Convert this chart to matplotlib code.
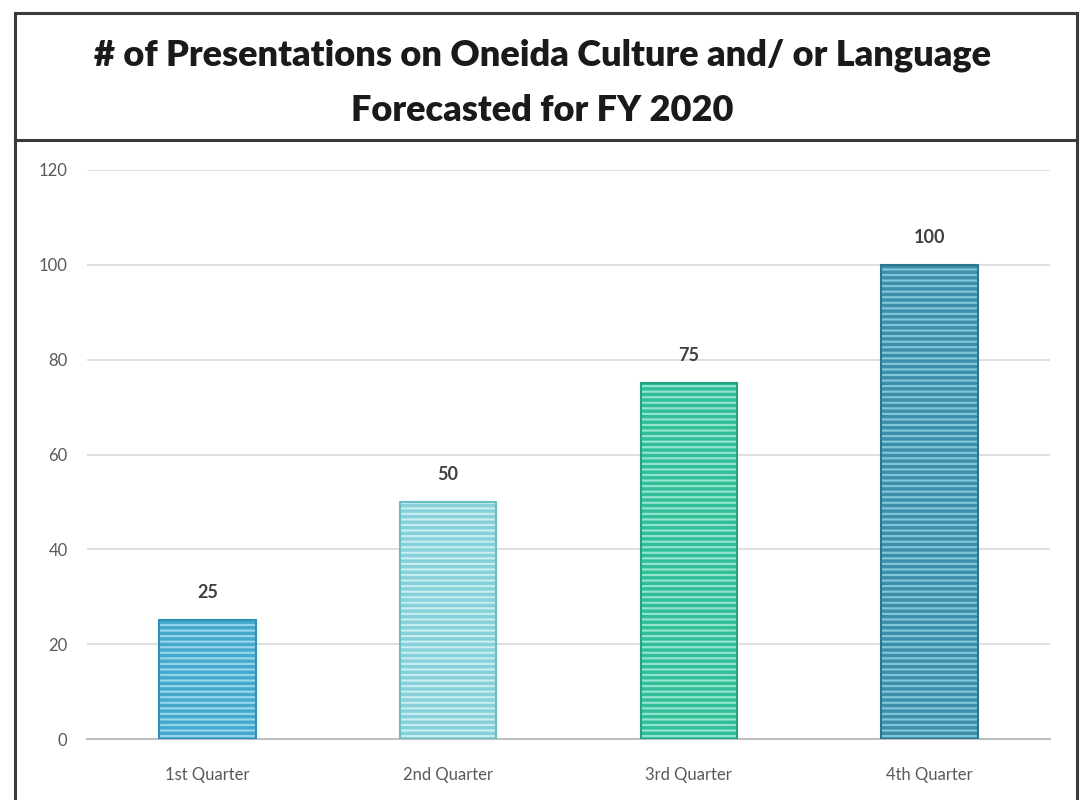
import matplotlib.pyplot as plt
from matplotlib.lines import Line2D

quarters = ["1st Quarter", "2nd Quarter", "3rd Quarter", "4th Quarter"]
values = [25, 50, 75, 100]
face_colors = ["#44a8cd", "#85d0d9", "#2fbe97", "#3c8ea9"]
stripe_colors = ["#93d6ec", "#c6edf0", "#93e4cd", "#80c5d8"]
edge_colors = ["#2f8fb5", "#6cbcc6", "#23a582", "#2d7690"]

plt.rcParams["font.family"] = ["Lato", "DejaVu Sans"]
plt.rcParams["hatch.linewidth"] = 1.6

fig = plt.figure(figsize=(10.85, 8), dpi=100)
ax = fig.add_axes([0.0802, 0.07625, 0.8875, 0.71125])

x = range(len(quarters))
for i in x:
    ax.bar(i, values[i], width=0.4, color=face_colors[i], edgecolor=stripe_colors[i],
           hatch="---", linewidth=0, zorder=3)
    ax.bar(i, values[i], width=0.4, fill=False, edgecolor=edge_colors[i],
           linewidth=1.5, zorder=4)
    ax.text(i, values[i] + 4, str(values[i]), ha="center", va="bottom",
            fontsize=13, fontweight="bold", color="#404040")

ax.set_xlim(-0.5, 3.5)
ax.set_ylim(0, 120)
ax.set_yticks(range(0, 121, 20))
ax.set_xticks(list(x))
ax.set_xticklabels(quarters)
ax.grid(axis="y", color="#d9d9d9", linewidth=1.2, zorder=0)
for s in ["top", "right", "left"]:
    ax.spines[s].set_visible(False)
ax.spines["bottom"].set_color("#bfbfbf")
ax.spines["bottom"].set_linewidth(1.5)
ax.tick_params(axis="both", length=0, labelsize=12, labelcolor="#595959")
ax.tick_params(axis="y", pad=14)
ax.tick_params(axis="x", pad=20)

# frame around the chart and title box
W, H = 1085, 800
def fx(px):
    return px / W
def fy(py):
    return 1 - py / H
lc = "#3a3a3a"
fig.add_artist(Line2D([fx(15), fx(1077)], [fy(13), fy(13)], color=lc, lw=2.2))
fig.add_artist(Line2D([fx(15), fx(1077)], [fy(140), fy(140)], color=lc, lw=2.2))
fig.add_artist(Line2D([fx(15), fx(15)], [fy(13), 0], color=lc, lw=2.2))
fig.add_artist(Line2D([fx(1077), fx(1077)], [fy(13), 0], color=lc, lw=2.2))

fig.text(0.5, fy(82.5), "# of Presentations on Oneida Culture and/ or Language\nForecasted for FY 2020",
         ha="center", va="center", fontsize=26, fontweight="heavy", color="#1a1a1a",
         linespacing=1.8)

fig.savefig("out.png", dpi=100, facecolor="white")
